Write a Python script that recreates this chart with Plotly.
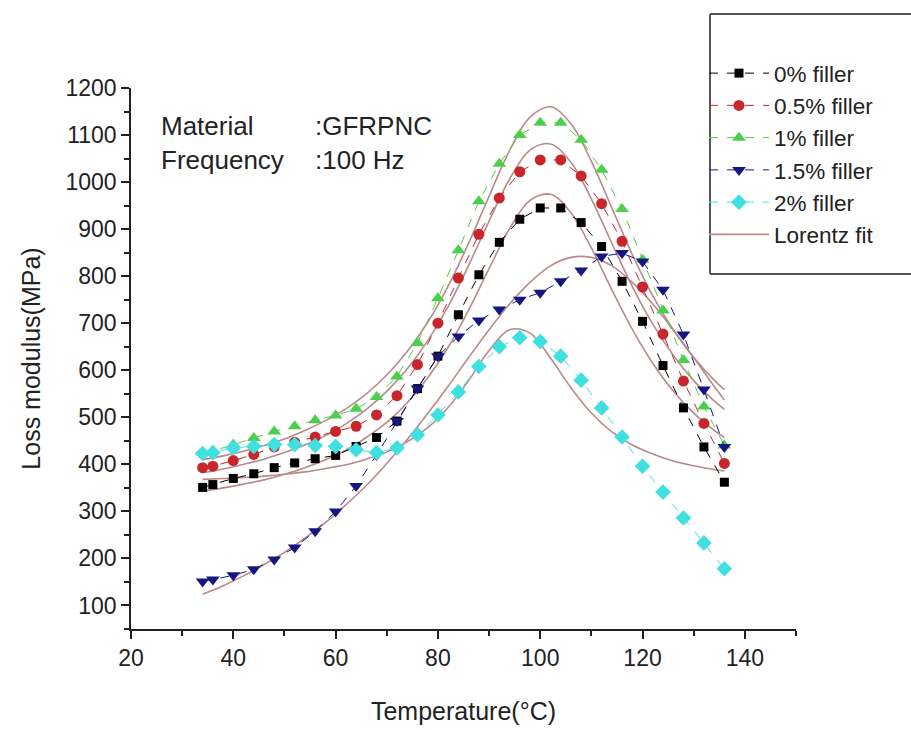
import plotly.graph_objects as go

# ---------------- data ----------------
temp = [34, 36, 40, 44, 48, 52, 56, 60, 64, 68, 72, 76, 80, 84, 88, 92, 96, 100,
        104, 108, 112, 116, 120, 124, 128, 132, 136]
filler_0 = [351, 357, 370, 380, 393, 403, 412, 419, 438, 457, 492, 561, 630, 718, 803, 872, 921, 945,
            945, 914, 863, 789, 704, 610, 520, 437, 362]
filler_05 = [393, 396, 408, 421, 437, 447, 458, 470, 481, 505, 546, 612, 700, 796, 889, 966, 1022, 1047,
             1047, 1013, 954, 874, 777, 677, 577, 487, 402]
filler_1 = [425, 428, 442, 456, 470, 481, 494, 504, 518, 543, 587, 658, 753, 855, 959, 1039, 1100, 1126,
            1126, 1090, 1026, 943, 835, 727, 622, 523, 440]
filler_15 = [151, 155, 164, 177, 198, 223, 258, 300, 354, 420, 492, 561, 630, 672, 706, 729, 750, 765,
             789, 812, 842, 849, 831, 771, 676, 559, 437]
filler_2 = [423, 425, 435, 438, 442, 442, 440, 438, 431, 425, 435, 463, 505, 554, 608, 650, 669, 661,
            630, 579, 520, 458, 396, 341, 286, 233, 178]

# Lorentz fit curves
fit_temp = [34, 38, 42, 46, 50, 54, 58, 62, 66, 70, 74, 78, 82, 86, 90, 94, 98, 102,
            106, 110, 114, 118, 122, 126, 130, 134, 136]
fit_0 = [343, 350, 358, 367, 379, 393, 410, 430, 457, 489, 531, 584, 649, 728, 816, 901, 961, 974,
         935, 860, 771, 687, 615, 556, 509, 472, 457]
fit_05 = [382, 390, 400, 411, 425, 441, 461, 486, 517, 555, 603, 663, 736, 823, 917, 1006, 1068, 1081,
          1042, 964, 870, 778, 698, 632, 578, 535, 517]
fit_1 = [410, 418, 428, 440, 454, 472, 493, 518, 550, 590, 640, 702, 779, 870, 970, 1067, 1138, 1160,
         1124, 1044, 945, 846, 758, 686, 627, 579, 559]
fit_15 = [124, 142, 163, 187, 213, 243, 276, 314, 355, 402, 453, 508, 566, 627, 686, 741, 787, 822,
          840, 840, 822, 787, 741, 686, 627, 566, 537]
fit_2 = [368, 370, 372, 375, 379, 384, 391, 399, 411, 426, 448, 478, 521, 578, 642, 686, 679, 626,
         563, 509, 469, 441, 422, 407, 397, 389, 386]

series_names = ["0% filler", "0.5% filler", "1% filler", "1.5% filler", "2% filler"]
fit_name = "Lorentz fit"
x_ticks = [20, 40, 60, 80, 100, 120, 140]
y_ticks = [100, 200, 300, 400, 500, 600, 700, 800, 900, 1000, 1100, 1200]

# ---------------- styling ----------------
FONT = "Liberation Sans, Arial, sans-serif"
TXT = "#222222"
fit_color = "#b88a8a"
styles = [
    dict(color="#000000", symbol="square", size=9),
    dict(color="#c8262b", symbol="circle", size=11),
    dict(color="#4ccf4c", symbol="triangle-up", size=12),
    dict(color="#161682", symbol="triangle-down", size=12),
    dict(color="#3fe0e0", symbol="diamond", size=12),
]

fig = go.Figure()

fits = [fit_0, fit_05, fit_1, fit_15, fit_2]
for i, f in enumerate(fits):
    fig.add_trace(go.Scatter(
        x=fit_temp, y=f, mode="lines", name=fit_name,
        line=dict(color=fit_color, width=1.6, shape="spline", smoothing=1.0),
        showlegend=(i == 0), legendrank=10,
    ))

datas = [filler_0, filler_05, filler_1, filler_15, filler_2]
for i, (d, nm, st) in enumerate(zip(datas, series_names, styles)):
    fig.add_trace(go.Scatter(
        x=temp, y=d, mode="lines+markers", name=nm,
        line=dict(color=st["color"], width=1, dash="dash"),
        marker=dict(color=st["color"], symbol=st["symbol"], size=st["size"], line=dict(width=0)),
        legendrank=i + 1,
    ))

L, R, T, B = 131, 115, 88, 101
W, H = 911, 730
pw = W - L - R
ph = H - T - B


def px(xp):
    return (xp - L) / pw


def py(yp):
    return (H - B - yp) / ph


axis_common = dict(
    showgrid=False, zeroline=False, showline=True, linecolor="#222", linewidth=1.5,
    ticks="outside", ticklen=8, tickwidth=1.5, tickcolor="#222",
    tickfont=dict(family=FONT, size=23, color=TXT),
)

box_line = dict(color="#555555", width=2)
legend_box = [
    dict(type="line", xref="paper", yref="paper", x0=px(710), x1=px(930), y0=py(14), y1=py(14), line=box_line),
    dict(type="line", xref="paper", yref="paper", x0=px(710), x1=px(930), y0=py(274), y1=py(274), line=box_line),
    dict(type="line", xref="paper", yref="paper", x0=px(710), x1=px(710), y0=py(274), y1=py(14), line=box_line),
]

fig.update_layout(
    width=W, height=H,
    margin=dict(l=L, r=R, t=T, b=B, autoexpand=False),
    paper_bgcolor="white", plot_bgcolor="white",
    font=dict(family=FONT, color=TXT),
    xaxis=dict(
        range=[20, 150], tickvals=x_ticks,
        minor=dict(ticks="outside", ticklen=5, tickwidth=1.5, tickcolor="#222", dtick=10, tick0=0),
        title=dict(text="Temperature(°C)", font=dict(family=FONT, size=25, color=TXT), standoff=32),
        **axis_common,
    ),
    yaxis=dict(
        range=[50, 1200], tickvals=y_ticks,
        minor=dict(ticks="outside", ticklen=5, tickwidth=1.5, tickcolor="#222", dtick=50, tick0=0),
        title=dict(text="Loss modulus(MPa)", font=dict(family=FONT, size=25, color=TXT), standoff=18),
        **axis_common,
    ),
    legend=dict(
        x=px(704), y=py(52), xanchor="left", yanchor="top",
        bgcolor="rgba(0,0,0,0)", borderwidth=0,
        font=dict(family=FONT, size=22.5, color=TXT),
        itemwidth=60, traceorder="normal",
    ),
    shapes=legend_box,
    annotations=[
        dict(text="Material", x=px(159), y=py(126), xref="paper", yref="paper",
             xanchor="left", yanchor="middle", showarrow=False,
             font=dict(family=FONT, size=26, color=TXT)),
        dict(text="Frequency", x=px(159), y=py(160), xref="paper", yref="paper",
             xanchor="left", yanchor="middle", showarrow=False,
             font=dict(family=FONT, size=26, color=TXT)),
        dict(text=":GFRPNC", x=px(313), y=py(126), xref="paper", yref="paper",
             xanchor="left", yanchor="middle", showarrow=False,
             font=dict(family=FONT, size=26, color=TXT)),
        dict(text=":100 Hz", x=px(313), y=py(160), xref="paper", yref="paper",
             xanchor="left", yanchor="middle", showarrow=False,
             font=dict(family=FONT, size=26, color=TXT)),
    ],
)

fig.write_html("out.html")
